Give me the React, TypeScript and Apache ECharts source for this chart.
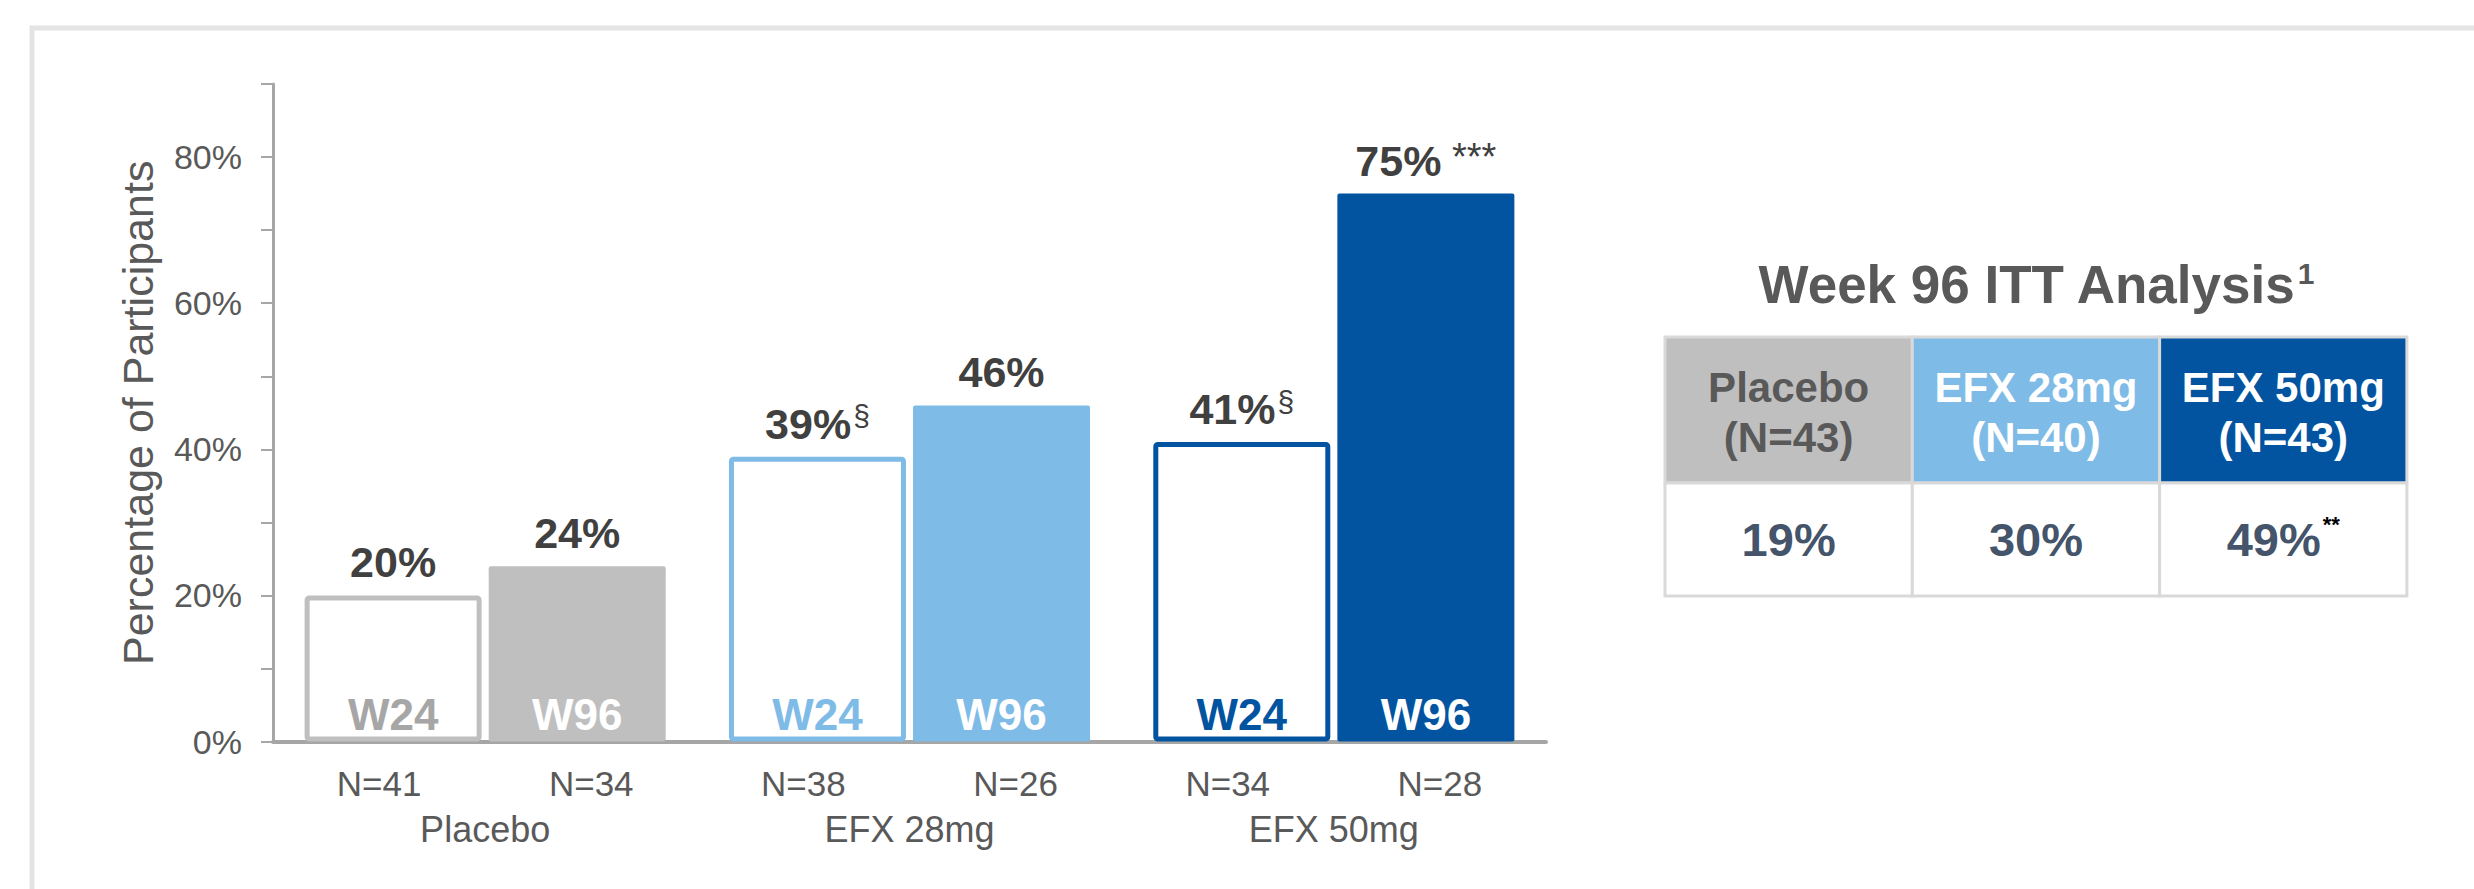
import React, { useEffect, useRef } from 'react';
import * as echarts from 'echarts';

// ---- data ----
const groups = ['Placebo', 'EFX 28mg', 'EFX 50mg'];
const nLabels = ['N=41', 'N=34', 'N=38', 'N=26', 'N=34', 'N=28'];
const w24Values = [20, 39, 41];
const w96Values = [24, 46, 75];
const w24Marks = ['', '§', '§'];
const w96Marks = ['', '', '***'];
const yTickLabels = [0, 20, 40, 60, 80];
const tableTitle = 'Week 96 ITT Analysis';
const tableTitleNote = '1';
const tableHeaders = ['Placebo', 'EFX 28mg', 'EFX 50mg'];
const tableN = ['(N=43)', '(N=40)', '(N=43)'];
const tableValues = ['19%', '30%', '49%'];
const tableMarks = ['', '', '**'];

// ---- styles ----
const groupColors = ['#BFBFBF', '#7FBBE7', '#0254A0'];
const w24TextColors = ['#A6A6A6', '#7FBBE7', '#0254A0'];
const headerTextColors = ['#595959', '#FFFFFF', '#FFFFFF'];
const CHART_FONT = 'Liberation Sans';
const TABLE_FONT = 'Liberation Sans';
const AXIS_GRAY = '#A6A6A6';
const LABEL_GRAY = '#595959';
const VALUE_DARK = '#404040';

const topRich = {
  v: { fontFamily: CHART_FONT, fontSize: 43, fontWeight: 'bold', color: VALUE_DARK, lineHeight: 46 },
  s: { fontFamily: CHART_FONT, fontSize: 30, color: VALUE_DARK, lineHeight: 30, verticalAlign: 'top', padding: [0, 0, 0, 2] },
  a: { fontFamily: CHART_FONT, fontSize: 38, color: VALUE_DARK, lineHeight: 38, verticalAlign: 'top', padding: [0, 0, 0, 0] },
};

function topLabel(values: number[], marks: string[]) {
  return (p: any) => {
    const i = p.dataIndex;
    const m = marks[i];
    let s = `{v|${values[i]}%}`;
    if (m === '§') s += `{s|${m}}`;
    else if (m) s += `{a| ${m}}`;
    return s;
  };
}

export default function App() {
  const ref = useRef<HTMLDivElement>(null);
  useEffect(() => {
    if (!ref.current) return;
    const chart = echarts.init(ref.current, undefined, { renderer: 'svg' });

    // table geometry
    const tX = 1665, tY = 337, colW = 247.3, headH = 146, valH = 113;
    const table: any[] = [];
    tableHeaders.forEach((h, i) => {
      const x = tX + i * colW;
      table.push({
        type: 'rect', shape: { x, y: tY, width: colW, height: headH },
        style: { fill: groupColors[i], stroke: '#D9D9D9', lineWidth: 3 },
      });
      table.push({
        type: 'rect', shape: { x, y: tY + headH, width: colW, height: valH },
        style: { fill: '#FFFFFF', stroke: '#D9D9D9', lineWidth: 3 },
      });
      table.push({
        type: 'text', x: x + colW / 2, y: tY + headH / 2 + 2,
        style: {
          text: `${h}\n${tableN[i]}`, align: 'center', verticalAlign: 'middle',
          fontFamily: TABLE_FONT, fontSize: 42, fontWeight: 'bold', lineHeight: 50,
          fill: headerTextColors[i],
        },
      });
      const m = tableMarks[i];
      table.push({
        type: 'text', x: x + colW / 2, y: tY + headH + valH / 2,
        style: {
          text: `{v|${tableValues[i]}}` + (m ? `{s|${m}}` : ''),
          align: 'center', verticalAlign: 'middle',
          rich: {
            v: { fontFamily: TABLE_FONT, fontSize: 47, fontWeight: 'bold', fill: '#44546A', lineHeight: 52 },
            s: { fontFamily: TABLE_FONT, fontSize: 22, fontWeight: 'bold', fill: '#000000', lineHeight: 22, verticalAlign: 'top', padding: [0, 0, 0, 2] },
          },
        },
      });
    });

    chart.setOption({
      animation: false,
      backgroundColor: '#FFFFFF',
      grid: { left: 273, top: 84, width: 1273, height: 657.6, containLabel: false },
      xAxis: [
        {
          type: 'category', data: groups, position: 'bottom',
          axisLine: { show: true, lineStyle: { color: AXIS_GRAY, width: 4 } },
          axisTick: { show: false },
          axisLabel: { fontFamily: CHART_FONT, fontSize: 36, color: LABEL_GRAY, margin: 70 },
        },
        {
          type: 'category', data: nLabels, position: 'bottom', gridIndex: 0,
          axisLine: { show: false }, axisTick: { show: false }, splitLine: { show: false },
          axisLabel: { fontFamily: CHART_FONT, fontSize: 35, color: LABEL_GRAY, margin: 24 },
        },
      ],
      yAxis: {
        type: 'value', min: 0, max: 90, interval: 10,
        axisLine: { show: true, lineStyle: { color: AXIS_GRAY, width: 3 } },
        axisTick: { show: true, length: 12, lineStyle: { color: AXIS_GRAY, width: 2 } },
        splitLine: { show: false },
        axisLabel: {
          fontFamily: CHART_FONT, fontSize: 34, color: LABEL_GRAY, margin: 31,
          formatter: (v: number) => (yTickLabels.includes(v) ? `${v}%` : ''),
        },
        name: 'Percentage of Participants', nameLocation: 'middle', nameGap: 114,
        nameTextStyle: { fontFamily: CHART_FONT, fontSize: 43, color: LABEL_GRAY },
      },
      series: [
        {
          type: 'bar', name: 'W24', stack: 'w24', barWidth: 177, barGap: '4%',
          data: w24Values.map((v, i) => ({
            value: v,
            itemStyle: { color: '#FFFFFF', borderColor: groupColors[i], borderWidth: 5, borderRadius: 2 },
            label: { color: w24TextColors[i] },
          })),
          label: {
            show: true, position: 'insideBottom', distance: 5, formatter: 'W24',
            fontFamily: CHART_FONT, fontSize: 44, fontWeight: 'bold',
          },
        },
        {
          type: 'bar', name: 'W24 label', stack: 'w24', barWidth: 177, barGap: '4%', z: 5,
          itemStyle: { color: 'rgba(0,0,0,0)' },
          data: w24Values.map(() => 0),
          label: { show: true, position: 'top', distance: 10, formatter: topLabel(w24Values, w24Marks), rich: topRich },
        },
        {
          type: 'bar', name: 'W96', stack: 'w96', barWidth: 177, barGap: '4%',
          data: w96Values.map((v, i) => ({
            value: v,
            itemStyle: { color: groupColors[i], borderRadius: 2 },
          })),
          label: {
            show: true, position: 'insideBottom', distance: 5, formatter: 'W96', color: '#FFFFFF',
            fontFamily: CHART_FONT, fontSize: 44, fontWeight: 'bold',
          },
        },
        {
          type: 'bar', name: 'W96 label', stack: 'w96', barWidth: 177, barGap: '4%', z: 5,
          itemStyle: { color: 'rgba(0,0,0,0)' },
          data: w96Values.map(() => 0),
          label: { show: true, position: 'top', distance: 10, formatter: topLabel(w96Values, w96Marks), rich: topRich },
        },
      ],
      graphic: [
        {
          type: 'polyline',
          shape: { points: [[32, 900], [32, 28], [2480, 28]] },
          style: { stroke: '#E4E4E4', lineWidth: 5, fill: 'none' },
        },
        {
          type: 'text', x: 2036, y: 284,
          style: {
            text: `{t|${tableTitle}}{s|${tableTitleNote}}`, align: 'center', verticalAlign: 'middle',
            rich: {
              t: { fontFamily: TABLE_FONT, fontSize: 53, fontWeight: 'bold', fill: '#595959', lineHeight: 60 },
              s: { fontFamily: TABLE_FONT, fontSize: 30, fontWeight: 'bold', fill: '#595959', lineHeight: 30, verticalAlign: 'top', padding: [4, 0, 0, 2] },
            },
          },
        },
        ...table,
      ],
    });
    return () => chart.dispose();
  }, []);
  return <div ref={ref} style={{ position: 'absolute', left: 0, top: 0, width: 2474, height: 889 }} />;
}
